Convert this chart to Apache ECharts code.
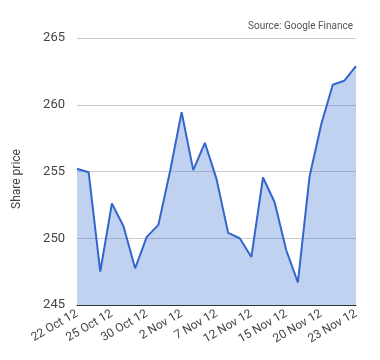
<!DOCTYPE html>
<html>
<head>
<meta charset="utf-8">
<script src="https://cdn.jsdelivr.net/npm/echarts@6/dist/echarts.min.js"></script>
<style>
html,body{margin:0;padding:0;background:#fff;}
#c{width:380px;height:360px;}
</style>
</head>
<body>
<div id="c"></div>
<script>
var dates = ['22 Oct 12','23 Oct 12','24 Oct 12','25 Oct 12','26 Oct 12','29 Oct 12','30 Oct 12','31 Oct 12',
  '1 Nov 12','2 Nov 12','5 Nov 12','6 Nov 12','7 Nov 12','8 Nov 12','9 Nov 12','12 Nov 12','13 Nov 12',
  '14 Nov 12','15 Nov 12','16 Nov 12','19 Nov 12','20 Nov 12','21 Nov 12','22 Nov 12','23 Nov 12'];
var prices = [255.2, 254.95, 247.5, 252.6, 250.9, 247.75, 250.1, 251.0,
  255.0, 259.45, 255.1, 257.15, 254.45, 250.4, 250.0, 248.6, 254.55,
  252.7, 249.1, 246.7, 254.6, 258.5, 261.5, 261.8, 262.9];
var yTicks = [245, 250, 255, 260, 265];
var yTitle = 'Share price';
var sourceNote = 'Source: Google Finance';

var chart = echarts.init(document.getElementById('c'), null, {renderer:'canvas'});
chart.setOption({
  animation: false,
  backgroundColor: '#fff',
  textStyle: {fontFamily: 'Roboto, Arial, sans-serif'},
  grid: {left: 77, right: 24, top: 38, bottom: 55, containLabel: false},
  graphic: [
    {type: 'text', right: 27, top: 21, style: {text: sourceNote, fill: '#555', font: '10px Roboto, Arial, sans-serif'}},
    {type: 'text', x: 11, y: 179, rotation: Math.PI/2, style: {text: yTitle, fill: '#444', font: '12px Roboto, Arial, sans-serif', align: 'center', verticalAlign: 'top'}}
  ],
  xAxis: {
    type: 'category',
    data: dates,
    boundaryGap: false,
    axisLine: {lineStyle: {color: '#333', width: 1}},
    axisTick: {show: false},
    axisLabel: {interval: 2, rotate: 30, color: '#444', fontSize: 12, margin: 8, showMaxLabel: true},
    splitLine: {show: false}
  },
  yAxis: {
    type: 'value',
    min: yTicks[0],
    max: yTicks[yTicks.length-1],
    interval: 5,
    axisLine: {show: false},
    axisTick: {show: false},
    axisLabel: {color: '#444', fontSize: 13, margin: 12},
    splitLine: {lineStyle: {color: '#ccc', width: 1}}
  },
  series: [{
    type: 'line',
    data: prices,
    symbol: 'none',
    lineStyle: {color: '#3366cc', width: 2},
    areaStyle: {color: '#3366cc', opacity: 0.3},
    z: 2
  }]
});
</script>
</body>
</html>
